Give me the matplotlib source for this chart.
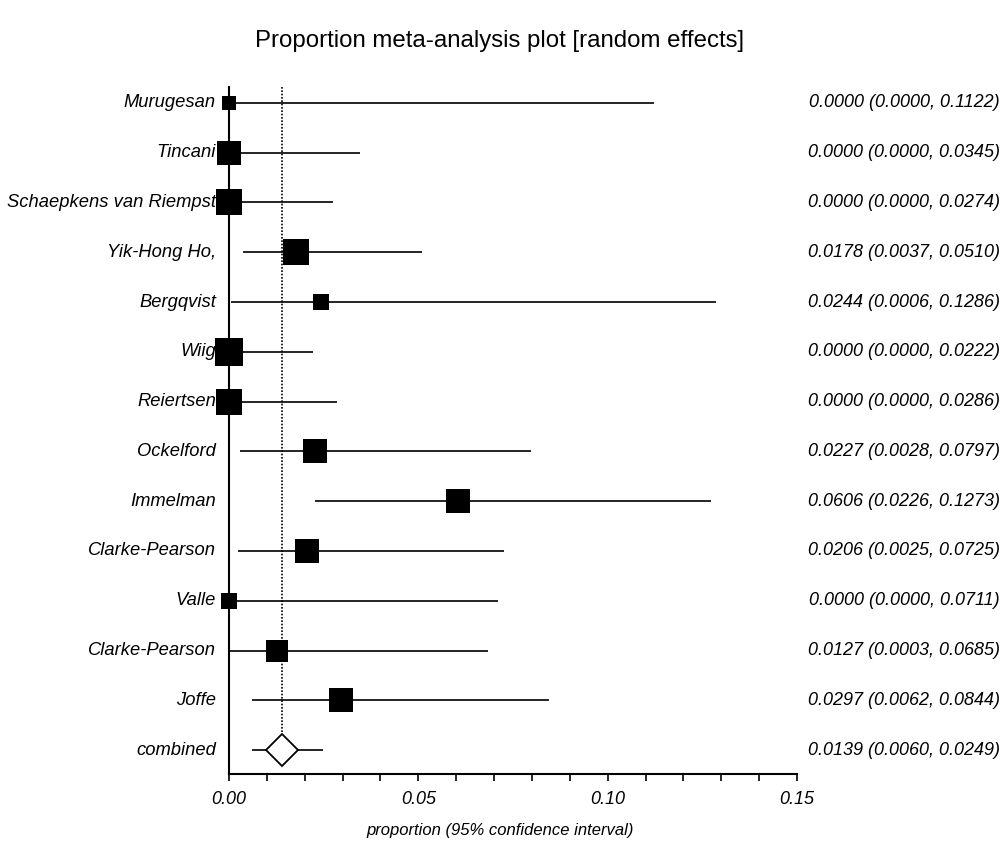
import matplotlib
matplotlib.use("Agg")
import matplotlib.pyplot as plt
import matplotlib.transforms as mtransforms
from matplotlib.ticker import MultipleLocator
import numpy as np

plt.rcParams['font.family'] = ['Liberation Sans', 'DejaVu Sans']

studies = ["Murugesan", "Tincani", "Schaepkens van Riempst", "Yik-Hong Ho,", "Bergqvist",
           "Wiig", "Reiertsen", "Ockelford", "Immelman", "Clarke-Pearson", "Valle",
           "Clarke-Pearson", "Joffe"]
prop = [0.0000, 0.0000, 0.0000, 0.0178, 0.0244, 0.0000, 0.0000, 0.0227, 0.0606, 0.0206,
        0.0000, 0.0127, 0.0297]
lower = [0.0000, 0.0000, 0.0000, 0.0037, 0.0006, 0.0000, 0.0000, 0.0028, 0.0226, 0.0025,
         0.0000, 0.0003, 0.0062]
upper = [0.1122, 0.0345, 0.0274, 0.0510, 0.1286, 0.0222, 0.0286, 0.0797, 0.1273, 0.0725,
         0.0711, 0.0685, 0.0844]
weights = [2.9, 7.9, 10.8, 10.8, 3.8, 11.6, 9.3, 7.9, 8.6, 7.9, 3.8, 7.2, 7.9]
combined_label = "combined"
combined = 0.0139
combined_lower = 0.0060
combined_upper = 0.0249
xticks = [0.00, 0.05, 0.10, 0.15]
xtick_labels = ["0.00", "0.05", "0.10", "0.15"]

W, H, DPI = 1003, 843, 100
fig = plt.figure(figsize=(W / DPI, H / DPI), dpi=DPI)
ax = fig.add_axes([229 / W, 1 - 774 / H, (797 - 229) / W, (774 - 87) / H])

n = len(studies)
rows = np.arange(n)
crow = n

px2pt = 72 / DPI
for i in range(n):
    ax.plot([lower[i], upper[i]], [rows[i], rows[i]], color='black', lw=1.2,
             solid_capstyle='butt', zorder=2)
    side = np.sqrt(weights[i] / 100 * 6730) * px2pt
    ax.plot(prop[i], rows[i], marker='s', color='black', markersize=side,
            markeredgewidth=0, zorder=3, clip_on=False)

# combined
ax.plot([combined_lower, combined_upper], [crow, crow], color='black', lw=1.2,
        solid_capstyle='butt', zorder=2)
ax.plot(combined, crow, marker='D', markersize=16.5, markerfacecolor='white',
        markeredgecolor='black', markeredgewidth=1.3, zorder=3)
ax.plot([combined, combined], [-0.32, crow - 0.34], color='black', lw=1.2,
        linestyle=(0, (1, 1)), zorder=1)

ax.set_xlim(0, 0.15)
ax.set_ylim(crow + 0.48, -0.32)

for s in ['top', 'right']:
    ax.spines[s].set_visible(False)
for s in ['left', 'bottom']:
    ax.spines[s].set_linewidth(1.5)

ax.set_yticks([])
ax.set_xticks(xticks)
ax.set_xticklabels(xtick_labels, fontstyle='italic', fontsize=13)
ax.xaxis.set_minor_locator(MultipleLocator(0.01))
ax.tick_params(axis='x', which='both', direction='out', length=5, width=1.2, pad=7)

trans = mtransforms.blended_transform_factory(fig.transFigure, ax.transData)
labels = studies + [combined_label]
for i, lab in enumerate(labels):
    ax.text(216 / W, i, lab, transform=trans, ha='right', va='center',
            fontstyle='italic', fontsize=13.2, clip_on=False)

right_texts = [f"{p:.4f} ({l:.4f}, {u:.4f})" for p, l, u in zip(prop, lower, upper)]
right_texts.append(f"{combined:.4f} ({combined_lower:.4f}, {combined_upper:.4f})")
for i, t in enumerate(right_texts):
    ax.text(1000 / W, i, t, transform=trans, ha='right', va='center',
            fontstyle='italic', fontsize=13, clip_on=False)

fig.text(500 / W, 1 - 41 / H, "Proportion meta-analysis plot [random effects]",
         ha='center', va='center', fontsize=17.3)
fig.text(500 / W, 1 - 830 / H, "proportion (95% confidence interval)",
         ha='center', va='center', fontsize=12, fontstyle='italic')

fig.savefig("out.png", dpi=DPI)
